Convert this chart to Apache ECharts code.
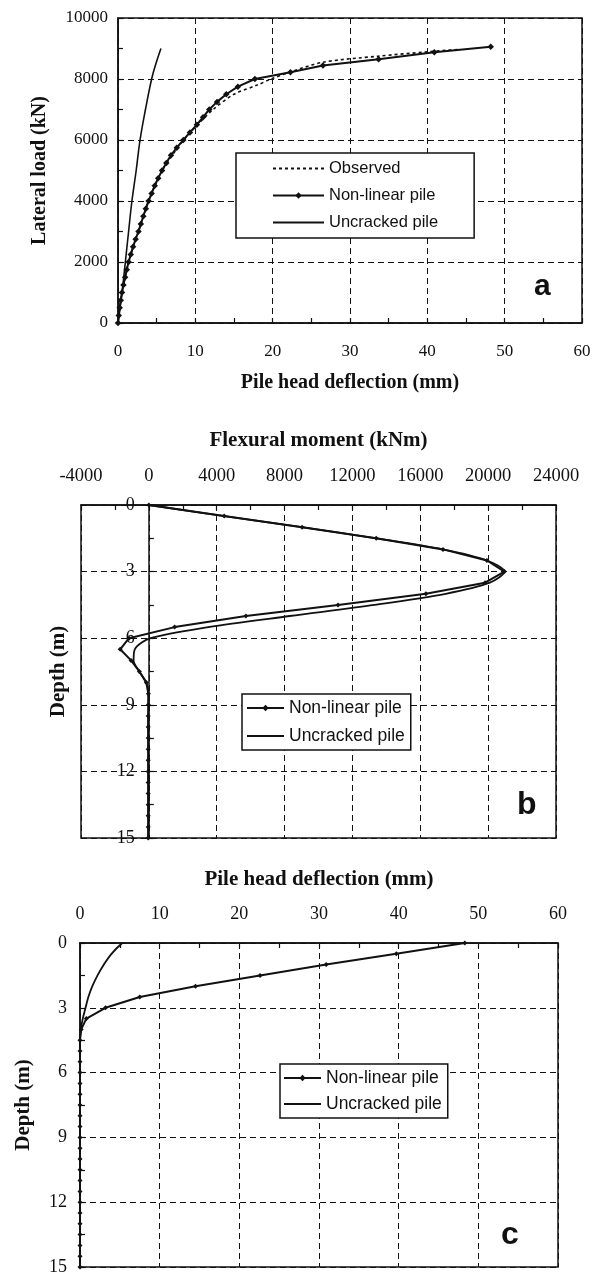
<!DOCTYPE html>
<html><head><meta charset="utf-8">
<script src="https://cdn.jsdelivr.net/npm/echarts@6/dist/echarts.min.js"></script>
<style>html,body{margin:0;padding:0;background:#fff}#c{width:594px;height:1273px}</style>
</head><body><div id="c"></div>
<script>
// ---- Panel a: lateral load vs pile head deflection ----
const aNonlinLoad = [0,250,500,750,1000,1250,1500,1750,2000,2250,2500,2750,3000,3250,3500,3750,4000,4250,4500,4750,5000,5250,5500,5750,6000,6250,6500,6750,7000,7250,7500,7750,8000,8220,8440,8650,8880,9060];
const aNonlinDefl = [0,0.1,0.22,0.36,0.52,0.7,0.92,1.13,1.37,1.65,1.95,2.28,2.65,2.95,3.27,3.6,3.95,4.35,4.75,5.2,5.7,6.25,6.85,7.6,8.45,9.3,10.2,11.0,11.8,12.8,14.0,15.5,17.7,22.3,26.5,33.7,40.9,48.2];
const aObsLoad = [0,500,1000,2000,3000,4000,5000,6000,6500,7000,7500,7800,8000,8250,8550,8750,8890,8970];
const aObsDefl = [0,0.22,0.52,1.37,2.65,3.95,5.7,8.5,10.3,12.3,15.0,18.0,19.8,22.5,26.5,33.7,40.0,44.0];
const aUncrLoad = [0,1000,2000,3000,4000,5000,6000,7000,8000,8500,9000];
const aUncrDefl = [0,0.52,0.95,1.37,1.8,2.35,2.85,3.55,4.35,4.9,5.55];

// ---- Panel b: depth vs flexural moment ----
const bDepth = [0,0.5,1,1.5,2,2.5,3,3.5,4,4.5,5,5.5,6,6.5,7,7.5,8,8.5,9,9.5,10,10.5,11,11.5,12,12.5,13,13.5,14,14.5,15];
const bNonlinMoment = [0,4440,9030,13400,17340,19930,20960,19820,16330,11150,5720,1520,-1170,-1690,-1050,-560,-150,-30,-30,-40,-40,-40,-40,-40,-40,-40,-40,-40,-40,-40,-40];
const bUncrMoment = [0,4440,9030,13400,17340,19930,20960,20100,17500,13300,8300,3500,100,-830,-900,-560,-150,-20,-20,-30,-30,-30,-30,-30,-30,-30,-30,-30,-30,-30,-30];

// ---- Panel c: depth vs pile deflection ----
const cDepth = [0,0.5,1,1.5,2,2.5,3,3.5,4,4.5,5,5.5,6,6.5,7,7.5,8,8.5,9,9.5,10,10.5,11,11.5,12,12.5,13,13.5,14,14.5,15];
const cNonlinDefl = [48.3,39.7,30.9,22.6,14.5,7.5,3.2,0.8,0.15,0,0,0,0,0,0,0,0,0,0,0,0,0,0,0,0,0,0,0,0,0,0];
const cUncrDefl = [5.3,3.95,3.0,2.2,1.55,1.05,0.7,0.35,0.1,0,0,0,0,0,0,0,0,0,0,0,0,0,0,0,0,0,0,0,0,0,0];

const aTicksX = {min:0,max:60,interval:10};
const aTicksY = {min:0,max:10000,interval:2000};
const bTicksX = {min:-4000,max:24000,interval:4000};
const depthTicks = {min:0,max:15,interval:3};
const cTicksX = {min:0,max:60,interval:10};

const ink = '#111';
const serif = 'Liberation Serif';
const sans = 'Liberation Sans';
const pairs = (xs, ys) => xs.map((x,i)=>[x, ys[i]]);

function axisBase(ticks, fs, margin){
  return Object.assign({
    type:'value',
    axisLine:{show:true,onZero:false,lineStyle:{color:ink,width:1.5}},
    axisTick:{show:true,inside:true,length:5,lineStyle:{color:ink,width:1.2}},
    minorTick:{show:true,splitNumber:2,length:5,lineStyle:{color:ink,width:1.2}},
    splitLine:{show:true,lineStyle:{color:ink,width:1,type:[6,4]}},
    axisLabel:{color:ink,fontFamily:serif,fontSize:fs,margin:margin,formatter:v=>String(v)},
    nameTextStyle:{color:ink,fontFamily:serif,fontWeight:'bold',fontSize:20},
    nameLocation:'middle'
  }, ticks);
}

const gridDefs = [
  {left:118, top:18, width:464, height:305},
  {left:81, top:505, width:475, height:333},
  {left:80, top:943, width:478, height:324}
];
const grids = gridDefs.map(g=>Object.assign({},g,{show:true,borderColor:ink,borderWidth:1.5,backgroundColor:'transparent',containLabel:false,outerBoundsMode:'none'}));

// panel b depth axis sits at moment = 0
const bZeroOffset = -gridDefs[1].width * (0 - bTicksX.min) / (bTicksX.max - bTicksX.min);

const xAxes = [
  Object.assign(axisBase(aTicksX,17,20),{gridIndex:0,position:'bottom',name:'Pile head deflection (mm)',nameGap:50}),
  Object.assign(axisBase(bTicksX,18.5,19),{gridIndex:1,position:'top',name:'Flexural moment (kNm)',nameGap:54}),
  Object.assign(axisBase(cTicksX,18,20),{gridIndex:2,position:'top',name:'Pile head deflection (mm)',nameGap:53})
];
xAxes[1].nameTextStyle = Object.assign({},xAxes[1].nameTextStyle,{fontSize:21});
xAxes[2].nameTextStyle = Object.assign({},xAxes[2].nameTextStyle,{fontSize:21});

const yAxes = [
  Object.assign(axisBase(aTicksY,17,10),{gridIndex:0,position:'left',name:'Lateral load (kN)',nameGap:68}),
  Object.assign(axisBase(depthTicks,18,14),{gridIndex:1,position:'left',offset:bZeroOffset,inverse:true,name:'Depth (m)',nameGap:80}),
  Object.assign(axisBase(depthTicks,18,13),{gridIndex:2,position:'left',inverse:true,name:'Depth (m)',nameGap:46})
];
yAxes[1].nameTextStyle = Object.assign({},yAxes[1].nameTextStyle,{fontSize:21});
yAxes[2].nameTextStyle = Object.assign({},yAxes[2].nameTextStyle,{fontSize:21});

function lineSeries(name, data, xi, opts){
  return Object.assign({
    name, type:'line', xAxisIndex:xi, yAxisIndex:xi, data,
    symbol:'none', lineStyle:{color:ink,width:1.6}, itemStyle:{color:ink},
    animation:false, z:3
  }, opts||{});
}
const nl = {symbol:'diamond',symbolSize:5,showSymbol:true,lineStyle:{color:ink,width:2}};
const nlA = Object.assign({},nl,{symbolSize:6.5});

const series = [
  lineSeries('Observed', pairs(aObsDefl,aObsLoad), 0, {lineStyle:{color:ink,width:1.6,type:[3,3]},smooth:0.3}),
  lineSeries('Non-linear pile', pairs(aNonlinDefl,aNonlinLoad), 0, nlA),
  lineSeries('Uncracked pile', pairs(aUncrDefl,aUncrLoad), 0, {smooth:0.4}),
  lineSeries('Non-linear pile', pairs(bNonlinMoment,bDepth), 1, nl),
  lineSeries('Uncracked pile', pairs(bUncrMoment,bDepth), 1, {smooth:0.3,lineStyle:{color:ink,width:1.8}}),
  lineSeries('Non-linear pile', pairs(cNonlinDefl,cDepth), 2, nl),
  lineSeries('Uncracked pile', pairs(cUncrDefl,cDepth), 2, {smooth:0.4,lineStyle:{color:ink,width:1.8}})
];

const noSym = {color:'rgba(0,0,0,0)',opacity:0,borderWidth:0};
function legend(names, left, top, pad, iw, fs, gap){
  return {
    data:names.map(n => (n==='Non-linear pile') ? {name:n} : {name:n, itemStyle:noSym}),
    left, top, orient:'vertical', padding:pad,
    itemWidth:iw, itemHeight:8, itemGap:gap,
    backgroundColor:'#fff', borderColor:ink, borderWidth:1.5, borderRadius:0,
    selectedMode:false,
    textStyle:{color:ink,fontFamily:sans,fontSize:fs}
  };
}

const option = {
  backgroundColor:'#fff',
  animation:false,
  grid:grids,
  xAxis:xAxes,
  yAxis:yAxes,
  series,
  legend:[
    legend(['Observed','Non-linear pile','Uncracked pile'],236,153,[7,36,7,36],51,16.5,10),
    legend(['Non-linear pile','Uncracked pile'],242,694,[5,6,5,4],37,17.5,10),
    legend(['Non-linear pile','Uncracked pile'],280,1064,[5,6,5,3],37,17.5,8)
  ],
  graphic:[
    {type:'text',left:534,top:272,style:{text:'a',font:'bold 30px "Liberation Sans"',fill:ink}},
    {type:'text',left:517,top:789,style:{text:'b',font:'bold 32px "Liberation Sans"',fill:ink}},
    {type:'text',left:501,top:1219,style:{text:'c',font:'bold 32px "Liberation Sans"',fill:ink}}
  ]
};
const chart = echarts.init(document.getElementById('c'),null,{renderer:'canvas'});
chart.setOption(option);
</script>
</body></html>
